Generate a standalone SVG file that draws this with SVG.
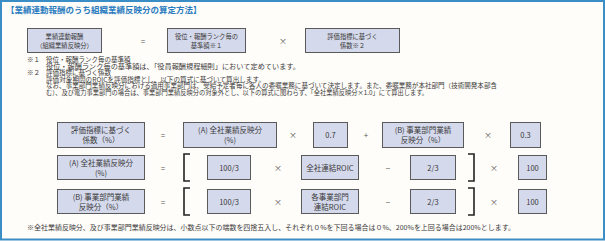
<svg xmlns="http://www.w3.org/2000/svg" width="605" height="241" viewBox="0 0 605 241">
<style>
text{font-family:"Noto Sans CJK JP","Noto Sans",sans-serif;fill:#3a3a3a;font-size:6.5px}
.t{font-size:8.5px;font-weight:bold;fill:#2a7cc0}
.b{fill:#d5d9ec;stroke:#5a5a5a;stroke-width:1}
.c{text-anchor:middle}
.s{font-size:6.3px}
.m{font-size:7.5px}
.op{font-size:8px;text-anchor:middle;fill:#555}
.br{fill:none;stroke:#222;stroke-width:1.6}
</style>
<rect x="1" y="1" width="603" height="238.5" fill="#fffdf9" stroke="#3b8dc6" stroke-width="2"/>
<text class="t" x="6" y="13">【業績連動報酬のうち組織業績反映分の算定方法】</text>

<g id="top-result"><rect class="b" x="27.5" y="28.5" width="74" height="24"/><text class="c s" x="64.5" y="39">業績連動報酬</text><text class="c s" x="64.5" y="48">（組織業績反映分）</text></g>
<g id="top-base"><rect class="b" x="167.5" y="28.5" width="78" height="24"/><text class="c s" x="206.5" y="39">役位・報酬ランク毎の</text><text class="c s" x="206.5" y="48">基準額※１</text></g>
<g id="top-coef"><rect class="b" x="305.5" y="28.5" width="94" height="24"/><text class="c s" x="352.5" y="39">評価指標に基づく</text><text class="c s" x="352.5" y="48">係数※２</text></g>
<g id="ops">
<text class="op" x="143" y="44">=</text><text class="op" x="283" y="44">×</text>
</g>

<g id="notes">
<text x="27" y="62">※１</text><text x="46" y="62">役位・報酬ランク毎の基準額</text>
<text x="46" y="68.5" textLength="254" lengthAdjust="spacingAndGlyphs">役位・報酬ランク毎の基準額は、「役員報酬規程細則」において定めています。</text>
<text x="27" y="75">※２</text><text x="46" y="75">評価指標に基づく係数</text>
<text x="46" y="81.5" textLength="219" lengthAdjust="spacingAndGlyphs">評価対象期間のROICを評価指標とし、以下の算式に基づいて算出します。</text>
<text x="46" y="88" textLength="451" lengthAdjust="spacingAndGlyphs">なお、事業部門業績反映分における適用事業部門は、受給予定者毎に各人の委嘱業務に基づいて決定します。また、委嘱業務が本社部門（技術開発本部含</text>
<text x="46" y="94.5" textLength="382" lengthAdjust="spacingAndGlyphs">む）、及び電力事業部門の場合は、事業部門業績反映分の対象外とし、以下の算式に関わらず、「全社業績反映分×1.0」にて算出します。</text>
</g>

<g id="r1-coef"><rect class="b" x="57.5" y="122.5" width="87" height="25"/><text class="c m" x="101" y="133">評価指標に基づく</text><text class="c m" x="101" y="143">係数（%）</text></g>
<g id="r1-a"><rect class="b" x="183.5" y="122.5" width="93" height="25"/><text class="c m" x="230" y="133">(A) 全社業績反映分</text><text class="c m" x="230" y="143">(%)</text></g>
<g id="r1-07"><rect class="b" x="313.5" y="122.5" width="34" height="25"/><text class="c m" x="330.5" y="138">0.7</text></g>
<g id="r1-b"><rect class="b" x="382.5" y="122.5" width="81" height="25"/><text class="c m" x="423" y="133">(B) 事業部門業績</text><text class="c m" x="423" y="143">反映分（%）</text></g>
<g id="r1-03"><rect class="b" x="510.5" y="122.5" width="30" height="25"/><text class="c m" x="525.5" y="138">0.3</text></g>

<g id="r2-a"><rect class="b" x="57.5" y="155.5" width="87" height="24"/><text class="c m" x="101" y="166">(A) 全社業績反映分</text><text class="c m" x="101" y="176">(%)</text></g>
<g id="r2-1003"><rect class="b" x="207.5" y="155.5" width="43" height="24"/><text class="c m" x="229" y="170.5">100/3</text></g>
<g id="r2-roic"><rect class="b" x="301.5" y="155.5" width="57" height="24"/><text class="c m" x="330" y="170.5">全社連結ROIC</text></g>
<g id="r2-23"><rect class="b" x="410.5" y="155.5" width="45" height="24"/><text class="c m" x="433" y="170.5">2/3</text></g>
<g id="r2-100"><rect class="b" x="518.5" y="155.5" width="28" height="24"/><text class="c m" x="532.5" y="170.5">100</text></g>

<g id="r3-b"><rect class="b" x="57.5" y="189.5" width="87" height="24"/><text class="c m" x="101" y="200">(B) 事業部門業績</text><text class="c m" x="101" y="210">反映分（%）</text></g>
<g id="r3-1003"><rect class="b" x="207.5" y="189.5" width="43" height="24"/><text class="c m" x="229" y="204.5">100/3</text></g>
<g id="r3-roic"><rect class="b" x="301.5" y="189.5" width="57" height="24"/><text class="c m" x="330" y="200">各事業部門</text><text class="c m" x="330" y="210">連結ROIC</text></g>
<g id="r3-23"><rect class="b" x="410.5" y="189.5" width="45" height="24"/><text class="c m" x="433" y="204.5">2/3</text></g>
<g id="r3-100"><rect class="b" x="518.5" y="189.5" width="28" height="24"/><text class="c m" x="532.5" y="204.5">100</text></g>

<g id="connectors">
<text class="op" x="163" y="138">=</text><text class="op" x="293" y="138">×</text><text class="op" x="366" y="138">+</text><text class="op" x="488" y="138">×</text>
<text class="op" x="163" y="171">=</text><text class="op" x="278" y="171">×</text><text class="op" x="388" y="171">−</text><text class="op" x="494" y="171">×</text>
<text class="op" x="163" y="205">=</text><text class="op" x="278" y="205">×</text><text class="op" x="388" y="205">−</text><text class="op" x="494" y="205">×</text>
<path class="br" d="M190 154H184V181H190M190 188H184V215H190"/>
<path class="br" d="M468 154H474V181H468M468 188H474V215H468"/>
</g>

<text x="27" y="229.5" textLength="488" lengthAdjust="spacingAndGlyphs">※全社業績反映分、及び事業部門業績反映分は、小数点以下の端数を四捨五入し、それぞれ０%を下回る場合は０%、200%を上回る場合は200%とします。</text>
</svg>
